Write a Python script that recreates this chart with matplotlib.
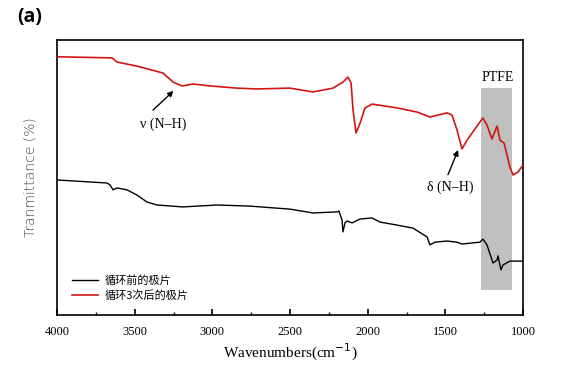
import matplotlib
matplotlib.use("Agg")
import matplotlib.pyplot as plt
from matplotlib.patches import Rectangle

plt.rcParams['font.family'] = ['Liberation Serif', 'Noto Sans CJK SC', 'DejaVu Sans']

# Red: after 3 cycles
red_wn = [4000, 3646, 3614, 3485, 3318, 3253, 3195, 3124, 3015, 2841, 2712, 2500,
          2352, 2223, 2159, 2127, 2107, 2094, 2075, 2049, 2017, 1972, 1811, 1682,
          1599, 1489, 1457, 1425, 1393, 1360, 1277, 1258, 1232, 1200, 1167, 1148,
          1122, 1084, 1064, 1032, 1000]
red_t = [93.9, 93.5, 92.0, 90.5, 88.0, 84.7, 83.3, 84.0, 83.3, 82.5, 82.2, 82.5,
         81.1, 82.5, 84.7, 86.5, 84.4, 74.5, 66.2, 69.8, 75.3, 76.7, 75.3, 73.8,
         72.0, 73.5, 72.7, 67.3, 60.4, 63.6, 70.2, 71.6, 69.1, 64.0, 68.7, 63.6,
         62.5, 53.8, 50.9, 52.0, 54.5]

# Black: before cycling
blk_wn = [4000, 3678, 3659, 3639, 3614, 3549, 3485, 3421, 3356, 3189, 2970, 2758,
          2500, 2352, 2197, 2185, 2165, 2159, 2146, 2133, 2101, 2049, 1972, 1921,
          1811, 1708, 1618, 1599, 1566, 1489, 1425, 1393, 1277, 1258, 1232, 1193,
          1167, 1161, 1142, 1129, 1084, 1000]
blk_t = [49.1, 48.0, 47.3, 45.5, 46.2, 45.5, 43.6, 41.1, 40.0, 39.3, 40.0, 39.6,
         38.5, 37.1, 37.5, 37.8, 34.5, 30.2, 33.5, 34.2, 33.5, 34.9, 35.3, 33.8,
         32.7, 31.6, 28.4, 25.5, 26.5, 26.9, 26.5, 25.8, 26.5, 27.6, 25.5, 18.9,
         20.0, 21.5, 16.4, 18.2, 19.6, 19.6]

labels = ['循环前的极片', '循环3次后的极片']
xticks = [4000, 3500, 3000, 2500, 2000, 1500, 1000]
ptfe_band = (1070, 1270)

fig = plt.figure(figsize=(5.86, 3.81), dpi=100)
ax = fig.add_axes([0.0973, 0.1732, 0.7952, 0.7218])

ax.add_patch(Rectangle((ptfe_band[0], 9), ptfe_band[1] - ptfe_band[0], 73.5,
                       facecolor='#c0c0c0', edgecolor='none', zorder=1))
ax.plot(blk_wn, blk_t, color='black', lw=1.0, label=labels[0], zorder=3)
ax.plot(red_wn, red_t, color='#d21414', lw=1.2, label=labels[1], zorder=3)

ax.set_xlim(4000, 1000)
ax.set_ylim(0, 100)
ax.set_xticks(xticks)
ax.set_xticks([3750, 3250, 2750, 2250, 1750, 1250], minor=True)
ax.set_yticks([])
ax.tick_params(axis='x', which='major', direction='in', length=4, width=1.2,
               labelsize=9, pad=8)
ax.tick_params(axis='x', which='minor', direction='in', length=2, width=1.0)
for s in ax.spines.values():
    s.set_linewidth(1.2)

ax.set_xlabel('Wavenumbers(cm$^{-1}$)', fontsize=11, labelpad=3)
ax.set_ylabel('Tranmittance (%)', fontsize=10, family=['DejaVu Sans'],
              fontweight='light', color='#444444', labelpad=14)

arrow_kw = dict(arrowstyle='-|>', color='black', lw=1.0, mutation_scale=8,
                shrinkA=0, shrinkB=0)
ax.annotate('', xy=(3250, 81.5), xytext=(3382, 74.5), arrowprops=arrow_kw)
ax.text(3318, 69.5, 'ν (N–H)', fontsize=10, ha='center', va='center')
ax.annotate('', xy=(1418, 60), xytext=(1483, 51), arrowprops=arrow_kw)
ax.text(1470, 46.5, 'δ (N–H)', fontsize=10, ha='center', va='center')
ax.text(1165, 86.5, 'PTFE', fontsize=10, ha='center', va='center')

leg = ax.legend(loc='lower left', bbox_to_anchor=(0.01, 0.015), frameon=False,
                handlelength=2.4, handletextpad=0.6, labelspacing=0.35,
                prop={'family': ['Noto Sans CJK SC'], 'size': 8})

fig.text(0.03, 0.955, '(a)', fontsize=14, fontweight='bold',
         family=['Open Sans', 'DejaVu Sans'], va='center', ha='left')

fig.savefig('out.png', dpi=100)
